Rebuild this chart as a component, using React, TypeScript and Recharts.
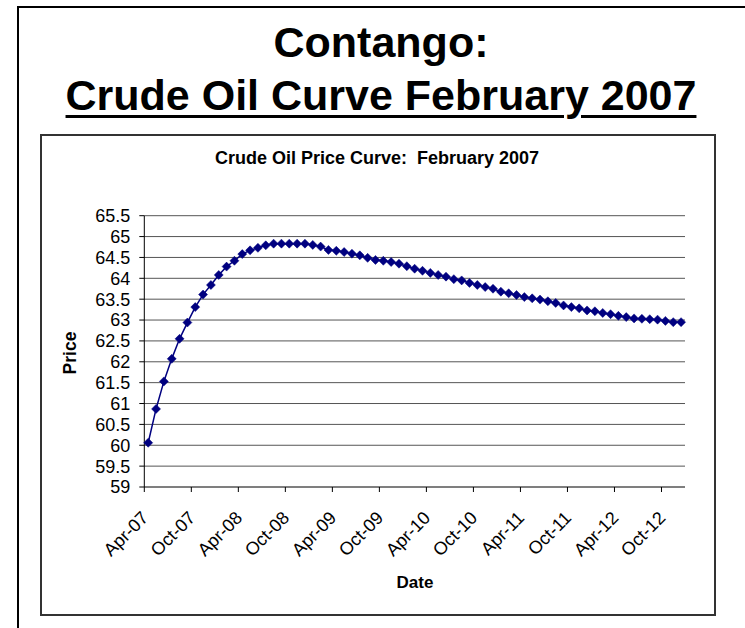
import { LineChart, Line, XAxis, YAxis, CartesianGrid } from 'recharts'

// Feb 2007 futures strip, one contract per month starting Apr-07
const prices = [
  60.06, 60.87, 61.53, 62.07, 62.55, 62.94, 63.31, 63.61, 63.84, 64.08,
  64.28, 64.42, 64.58, 64.67, 64.73, 64.79, 64.83, 64.83, 64.83, 64.83,
  64.83, 64.8, 64.76, 64.68, 64.66, 64.63, 64.59, 64.55, 64.49, 64.44,
  64.42, 64.39, 64.35, 64.29, 64.23, 64.18, 64.13, 64.08, 64.04, 63.98,
  63.95, 63.89, 63.84, 63.79, 63.75, 63.68, 63.64, 63.6, 63.55, 63.52,
  63.49, 63.45, 63.41, 63.35, 63.31, 63.28, 63.23, 63.21, 63.17, 63.14,
  63.1, 63.07, 63.04, 63.03, 63.02, 63.01, 62.98, 62.95, 62.95,
]

const tickLabels = [
  'Apr-07', 'Oct-07', 'Apr-08', 'Oct-08', 'Apr-09', 'Oct-09',
  'Apr-10', 'Oct-10', 'Apr-11', 'Oct-11', 'Apr-12', 'Oct-12',
]
const xTicks = tickLabels.map((_, i) => i * 6) // months since Apr-07
const yTicks = [59, 59.5, 60, 60.5, 61, 61.5, 62, 62.5, 63, 63.5, 64, 64.5, 65, 65.5]

// each contract sits mid-month on a months-since-Apr-07 axis
const data = prices.map((price, i) => ({ month: i + 0.5, price }))

const font = '"Liberation Sans", Arial, sans-serif'
const navy = '#000080'

function DateTick(props: any) {
  const { x, y, payload } = props
  const label = tickLabels[Math.round(payload.value / 6)]
  const ax = x + 5
  const ay = y + 27
  return (
    <text x={ax} y={ay} transform={`rotate(-45, ${ax}, ${ay})`} textAnchor="end"
      fontSize={18} fontFamily={font} fill="#000">
      {label}
    </text>
  )
}

function Diamond(props: any) {
  const { cx, cy, index } = props
  if (cx == null || cy == null) return <g key={index} />
  const r = 4.5
  return (
    <path key={index} d={`M${cx},${cy - r} L${cx + r},${cy} L${cx},${cy + r} L${cx - r},${cy} Z`}
      fill={navy} stroke={navy} strokeWidth={0.5} />
  )
}

export default function App() {
  return (
    <div style={{ position: 'absolute', left: 0, top: 0, width: 745, height: 628, overflow: 'hidden', background: '#fff', fontFamily: font }}>
      {/* slide frame */}
      <div style={{ position: 'absolute', left: 17, top: 6, width: 760, height: 660, borderLeft: '2px solid #000', borderTop: '2px solid #000' }} />
      <div style={{ position: 'absolute', left: 17, top: 16, width: 728, textAlign: 'center', fontWeight: 'bold', fontSize: 43, lineHeight: '53px', color: '#000' }}>
        <div>Contango:</div>
        <div style={{ textDecoration: 'underline', textDecorationThickness: 3, textUnderlineOffset: 5 }}>Crude Oil Curve February 2007</div>
      </div>

      {/* chart box */}
      <div style={{ position: 'absolute', left: 40, top: 134, width: 672, height: 478, border: '2px solid #333' }} />
      <div style={{ position: 'absolute', left: 41, top: 148, width: 672, textAlign: 'center', fontWeight: 'bold', fontSize: 18, whiteSpace: 'pre', color: '#000' }}>
        {'Crude Oil Price Curve:  February 2007'}
      </div>

      <div style={{ position: 'absolute', left: 0, top: 0 }}>
        <LineChart width={745} height={628} data={data}
          margin={{ top: 215.7, right: 60, bottom: 81, left: 84.3 }}>
          <CartesianGrid horizontal vertical={false} stroke="#555" strokeWidth={1} />
          <XAxis type="number" dataKey="month" domain={[0, 69]} ticks={xTicks} interval={0}
            height={60} tick={<DateTick />} tickSize={5} tickMargin={0}
            axisLine={{ stroke: '#555' }} tickLine={{ stroke: '#000' }} />
          <YAxis type="number" domain={[59, 65.5]} ticks={yTicks} interval={0} width={60}
            tickSize={5} tickMargin={9}
            tick={{ fontSize: 18, fontFamily: font, fill: '#000' }}
            axisLine={{ stroke: '#000' }} tickLine={{ stroke: '#000' }} />
          <Line type="linear" dataKey="price" stroke={navy} strokeWidth={1.5}
            dot={(p: any) => <Diamond {...p} />} isAnimationActive={false} />
        </LineChart>
      </div>

      <div style={{ position: 'absolute', left: 70, top: 353, transform: 'translate(-50%, -50%) rotate(-90deg)', fontWeight: 'bold', fontSize: 17.5, color: '#000', whiteSpace: 'nowrap' }}>Price</div>
      <div style={{ position: 'absolute', left: 415, top: 583, transform: 'translate(-50%, -50%)', fontWeight: 'bold', fontSize: 17, color: '#000' }}>Date</div>
    </div>
  )
}
